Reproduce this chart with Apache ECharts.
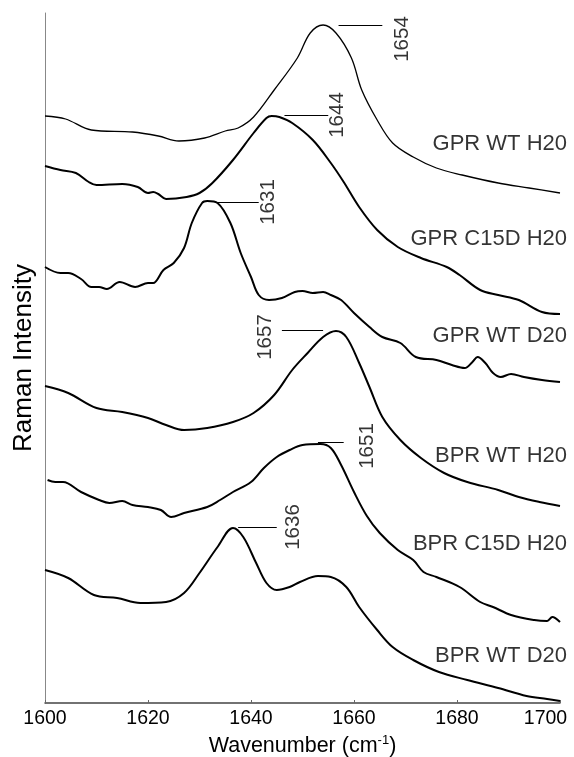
<!DOCTYPE html>
<html>
<head>
<meta charset="utf-8">
<script src="https://cdn.jsdelivr.net/npm/echarts@6/dist/echarts.min.js"></script>
<style>
html,body{margin:0;padding:0;background:#fff;}
#chart{width:574px;height:757px;}
</style>
</head>
<body>
<div id="chart"></div>
<script>
// Wavenumber (cm-1) and stacked Raman intensity (arbitrary units, offsets included)
const seriesNames = ['GPR WT H20','GPR C15D H20','GPR WT D20','BPR WT H20','BPR C15D H20','BPR WT D20'];

const gprWtH2oX = [1600,1604,1609,1617,1622,1626,1631,1635,1637.5,1640.5,1644.5,1649,1651.5,1654,1656.5,1659.5,1661.5,1664.5,1667.5,1671.5,1676,1681,1688,1694,1700];
const gprWtH2oY = [587,584,573,571,567,562,565,572,575,586,613,645,670,678,670,645,613,583,560,546,535,528,520,515,510];

const gprC15dH2oX = [1600,1603,1606,1608.5,1610,1615,1618,1620,1621,1622,1623.5,1627.5,1630,1632.5,1636.5,1640.5,1643,1644,1645.5,1648,1652,1655.5,1658,1661,1664.5,1668.5,1673,1678,1680.5,1684.5,1688,1692,1696.5,1700];
const gprC15dH2oY = [537,533,530,521,518,519,516,510,511,509,504,506,510,520,543,570,585,587,586,580,563,540,521,496,473,456,445,436,428,413,408,403,391,389];

const gprWtD2oX = [1600,1603,1604.5,1607,1609,1610.5,1612,1614.5,1617.5,1620,1621,1623,1625,1627,1628.5,1630.5,1631.5,1633.5,1636,1638,1640,1641.5,1643.5,1646,1648.5,1650,1652,1654,1655.5,1657.5,1660,1663,1665.5,1669,1672,1676,1679,1681.5,1683,1684,1685.5,1687,1688.5,1690.5,1693,1696.5,1700];
const gprWtD2oY = [436,430,430,424,416,416,414,421,416,420,420,433,440,455,480,500,502,500,480,450,426,408,403,405,411,412,410,411,408,403,390,376,366,360,346,343,338,335,341,346,340,330,326,329,326,323,321];

const bprWtH2oX = [1600,1604.5,1610,1615,1620,1623.5,1627,1631.5,1636.5,1640.5,1644.5,1648,1651,1654,1656.5,1658.5,1661,1663,1665.5,1669,1673,1677.5,1682,1688,1692,1696,1700];
const bprWtH2oY = [317,310,295,291,285,278,273,275,281,290,308,333,350,366,372,366,340,316,286,263,245,230,221,213,206,201,197];

const bprC15dH2oX = [1600.5,1602,1603.5,1607,1610.5,1612.5,1615,1617,1620,1622.5,1624.5,1627,1631.5,1634,1636.5,1640,1642.5,1645,1647.5,1650,1653.5,1655.5,1657.5,1660,1662.5,1665,1668.5,1671.5,1673.5,1676,1680.5,1684.5,1687,1690.5,1695,1697.5,1698.5,1700];
const bprC15dH2oY = [223,221,221,211,203,200,202,198,196,193,186,190,196,203,211,221,235,246,253,258,259,255,238,211,187,170,153,143,131,126,116,101,96,88,83,82,86,81];

const bprWtD2oX = [1600,1604.5,1609.5,1614,1618.5,1623.5,1627,1630,1633.5,1636.5,1638.5,1641,1643,1645,1647.5,1649.5,1653,1655.5,1658.5,1661,1664.5,1667.5,1671.5,1676.5,1682,1688,1693.5,1697.5,1700];
const bprWtD2oY = [133,125,108,105,100,101,110,130,156,175,166,140,120,113,116,121,127,126,116,96,73,56,43,31,23,15,7,4,2];

// right-hand curve labels (intensity level of each label)
const labelLevels = [559,464,367,247,159,47];

// peak annotations: text, tick start/end (cm-1), tick level, text position
const peakTexts  = ['1654','1644','1631','1657','1651','1636'];
const tickStart  = [1657,1646.5,1633.5,1646,1653,1637.5];
const tickEnd    = [1665.5,1655,1641.5,1654,1658,1645];
const tickLevel  = [678,588,501,373,261,176];
const peakTextX  = [1669.3,1656.7,1643.3,1642.7,1662.5,1648.2];
const peakTextY  = [664,588,501,366,257,176];

const xTicks = [1600,1620,1640,1660,1680,1700];

const xs = [gprWtH2oX,gprC15dH2oX,gprWtD2oX,bprWtH2oX,bprC15dH2oX,bprWtD2oX];
const ys = [gprWtH2oY,gprC15dH2oY,gprWtD2oY,bprWtH2oY,bprC15dH2oY,bprWtD2oY];

const FONT = '"Liberation Sans", Arial, sans-serif';

const chart = echarts.init(document.getElementById('chart'), null, {renderer:'canvas'});

const series = [];
seriesNames.forEach((n,i)=>{
  series.push({
    name:n, type:'line', showSymbol:false, smooth:0.35,
    data: xs[i].map((x,k)=>[x, ys[i][k]]),
    lineStyle:{color:'#000', width: i===0 ? 1.3 : 2},
    clip:false, silent:true
  });
});
// curve labels
series.push({
  type:'scatter', symbolSize:0, silent:true, clip:false,
  data: labelLevels.map((v,i)=>({value:[1700,v], name:seriesNames[i]})),
  label:{show:true, position:'inside', align:'right', verticalAlign:'middle', offset:[7,0],
    formatter:p=>p.name, color:'#000', fontSize:22, fontFamily:FONT}
});
// annotation ticks
series.push({
  type:'line', data:[], silent:true,
  markLine:{
    silent:true, symbol:['none','none'], animation:false,
    lineStyle:{color:'#000', width:1, type:'solid'},
    label:{show:false},
    data: peakTexts.map((t,i)=>[{coord:[tickStart[i], tickLevel[i]]},{coord:[tickEnd[i], tickLevel[i]]}])
  }
});
// annotation texts
series.push({
  type:'scatter', symbolSize:0, silent:true, clip:false,
  data: peakTexts.map((t,i)=>({value:[peakTextX[i], peakTextY[i]], name:t})),
  label:{show:true, position:'inside', rotate:90, align:'center', verticalAlign:'middle',
    formatter:p=>p.name, color:'#000', fontSize:20.5, fontFamily:FONT}
});

chart.setOption({
  animation:false,
  backgroundColor:'#fff',
  grid:{left:45, right:14, top:13, bottom:54, containLabel:false, outerBoundsMode:'none'},
  xAxis:{
    type:'value', min:1600, max:1700, interval:20,
    axisLine:{show:true, lineStyle:{color:'#444', width:1.5}},
    axisTick:{show:true, inside:true, length:3, lineStyle:{color:'#666'}},
    splitLine:{show:false},
    axisLabel:{color:'#000', fontSize:19.5, fontFamily:FONT, margin:6,
      formatter:v=> !xTicks.includes(v) ? '' : (v===1700 ? '{r|1700}' : String(v)),
      rich:{r:{fontSize:19.5, fontFamily:FONT, color:'#000', padding:[0,29,0,0]}}},
    name:'Wavenumber (cm{sup|-1})',
    nameLocation:'middle', nameGap:29,
    nameTextStyle:{color:'#000', fontSize:21.5, fontFamily:FONT, lineHeight:24,
      rich:{sup:{fontSize:13, fontFamily:FONT, color:'#000', verticalAlign:'top', lineHeight:24, padding:[0,0,9,0]}}}
  },
  yAxis:{
    type:'value', min:0, max:690,
    axisLine:{show:true, lineStyle:{color:'#888', width:1}},
    axisTick:{show:false}, axisLabel:{show:false}, splitLine:{show:false},
    name:'Raman Intensity', nameLocation:'middle', nameRotate:90, nameGap:8,
    nameTextStyle:{color:'#000', fontSize:26, fontFamily:FONT}
  },
  series: series
});
</script>
</body>
</html>
